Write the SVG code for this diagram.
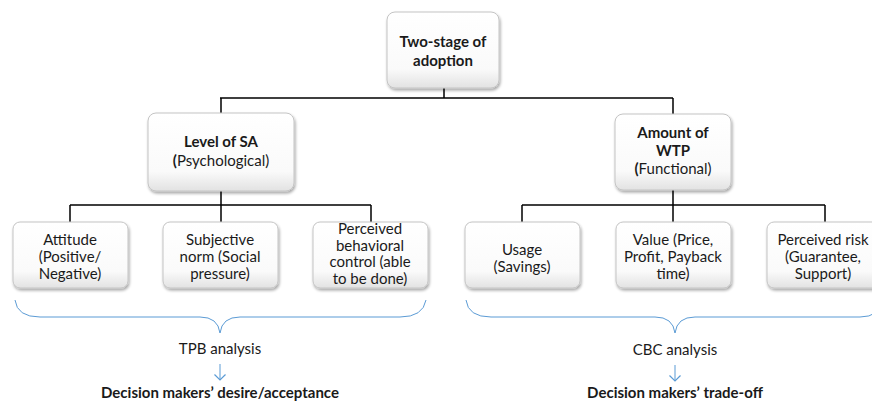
<svg xmlns="http://www.w3.org/2000/svg" width="872" height="402" viewBox="0 0 872 402">
<defs>
<linearGradient id="g" x1="0" y1="0" x2="0" y2="1">
<stop offset="0" stop-color="#ffffff"/>
<stop offset="0.75" stop-color="#fafafa"/>
<stop offset="1" stop-color="#e2e2e2"/>
</linearGradient>
<filter id="sh" x="-10%" y="-10%" width="125%" height="130%">
<feGaussianBlur in="SourceAlpha" stdDeviation="1.5"/>
<feOffset dx="1" dy="2" result="b"/>
<feComponentTransfer><feFuncA type="linear" slope="0.35"/></feComponentTransfer>
<feMerge><feMergeNode/><feMergeNode in="SourceGraphic"/></feMerge>
</filter>
<marker id="ah" viewBox="0 0 10 12" refX="9" refY="6" markerWidth="10" markerHeight="12" markerUnits="userSpaceOnUse" orient="auto">
<path d="M3.5,0.5 L9,6 L3.5,11.5" fill="none" stroke="#5b9bd5" stroke-width="1.2"/>
</marker>
</defs>
<style>
.box{fill:url(#g);stroke:#c4c4c4;stroke-width:1;filter:url(#sh)}
.t{font-family:Lato,"Open Sans","Liberation Sans",sans-serif;font-size:15px;fill:#1a1a1a;text-anchor:middle}
.b{font-weight:bold}
.ln{fill:none;stroke:#000;stroke-width:1.5}
.br{fill:none;stroke:#5b9bd5;stroke-width:1}
</style>
<rect width="872" height="402" fill="#fff"/>
<g id="connectors">
<path class="ln" d="M444,88 V98 M220,98 H673 M221,98 V113 M673,98 V114"/>
<path class="ln" d="M221,191 V205 M70,205 H371 M70,205 V222 M221,205 V222 M371,205 V222"/>
<path class="ln" d="M673,190 V205 M522,205 H825 M522,205 V222 M673,205 V222 M825,205 V222"/>
<path class="br" d="M15,300 Q17,317 40,317 H200 Q218,317 220,333 Q222,317 240,317 H400 Q423,317 426,300"/>
<path class="br" d="M466,300 Q468,317 491,317 H655 Q673,317 675,333 Q677,317 695,317 H860 Q880,317 882,300"/>
<line class="br" x1="220" y1="364" x2="220" y2="380" marker-end="url(#ah)"/>
<line class="br" x1="675" y1="365" x2="675" y2="381" marker-end="url(#ah)"/>
</g>
<g id="n-top">
<rect class="box" x="387" y="12" width="112" height="76" rx="8"/>
<text class="t b" x="443" y="47" font-size="16">Two-stage of<tspan x="443" dy="19">adoption</tspan></text>
</g>
<g id="n-sa">
<rect class="box" x="148" y="113" width="146" height="78" rx="8"/>
<text class="t" x="221" y="147"><tspan class="b">Level of SA</tspan><tspan x="221" dy="19"><tspan class="b">(</tspan>Psychological)</tspan></text>
</g>
<g id="n-wtp">
<rect class="box" x="615" y="114" width="116" height="76" rx="8"/>
<text class="t" x="673" y="138"><tspan class="b">Amount of</tspan><tspan class="b" x="673" dy="18">WTP</tspan><tspan x="673" dy="18"><tspan class="b">(</tspan>Functional)</tspan></text>
</g>
<g id="n-attitude">
<rect class="box" x="13" y="222" width="115" height="66" rx="7"/>
<text class="t" x="70" y="245">Attitude<tspan x="70" dy="17">(Positive/</tspan><tspan x="70" dy="17">Negative)</tspan></text>
</g>
<g id="n-subjective">
<rect class="box" x="163" y="222" width="115" height="66" rx="7"/>
<text class="t" x="220" y="245">Subjective<tspan x="220" dy="17">norm (Social</tspan><tspan x="220" dy="17">pressure)</tspan></text>
</g>
<g id="n-pbc">
<rect class="box" x="313" y="222" width="115" height="66" rx="7"/>
<text class="t" x="370" y="234" font-size="13.5">Perceived<tspan x="370" dy="16.5">behavioral</tspan><tspan x="370" dy="16.5">control (able</tspan><tspan x="370" dy="16.5">to be done)</tspan></text>
</g>
<g id="n-usage">
<rect class="box" x="465" y="222" width="115" height="66" rx="7"/>
<text class="t" x="522" y="255">Usage<tspan x="522" dy="17">(Savings)</tspan></text>
</g>
<g id="n-value">
<rect class="box" x="616" y="222" width="115" height="66" rx="7"/>
<text class="t" x="673" y="245">Value (Price,<tspan x="673" dy="17">Profit, Payback</tspan><tspan x="673" dy="17">time)</tspan></text>
</g>
<g id="n-risk">
<rect class="box" x="767" y="222" width="115" height="66" rx="7"/>
<text class="t" x="823" y="245">Perceived risk<tspan x="823" dy="17">(Guarantee,</tspan><tspan x="823" dy="17">Support)</tspan></text>
</g>
<g id="labels">
<text class="t" x="220" y="354">TPB analysis</text>
<text class="t" x="675" y="355">CBC analysis</text>
<text class="t b" x="220" y="398" font-size="15.5">Decision makers’ desire/acceptance</text>
<text class="t b" x="675" y="398" font-size="15.5">Decision makers’ trade-off</text>
</g>
</svg>
